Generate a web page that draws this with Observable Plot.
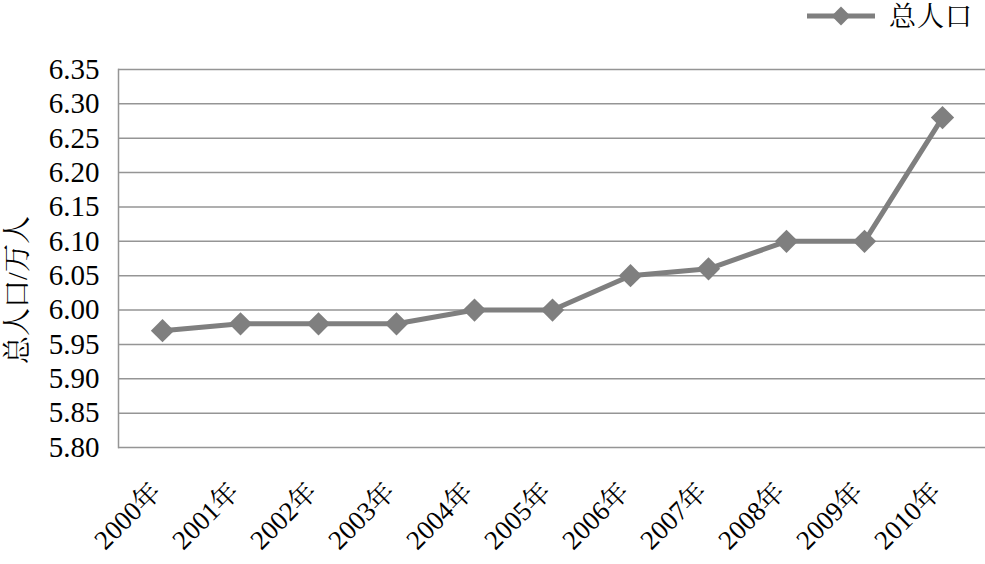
<!DOCTYPE html>
<html>
<head>
<meta charset="utf-8">
<script src="https://cdn.jsdelivr.net/npm/d3@7"></script>
<script src="https://cdn.jsdelivr.net/npm/@observablehq/plot@0.6"></script>
<style>
  html, body { margin: 0; padding: 0; background: #fff; }
  #wrap { width: 985px; height: 564px; position: relative; overflow: hidden; background: #fff; }
  #legend { height: 36px; position: relative; font-family: "Noto Serif CJK SC", serif; }
  #legend svg { position: absolute; left: 800px; top: 0; }
  #legend span { position: absolute; right: 12px; top: 0px; font-size: 27px; letter-spacing: 1px; color: #000; line-height: 30px; white-space: nowrap; }
  #chart svg, #chart svg g, #chart svg text, #chart svg tspan { font-family: "Liberation Serif", "Noto Serif CJK SC", serif !important; font-variant: normal !important; }
</style>
</head>
<body>
<div id="wrap">
  <div id="legend"></div>
  <div id="chart"></div>
</div>
<script>
const years = ["2000年","2001年","2002年","2003年","2004年","2005年","2006年","2007年","2008年","2009年","2010年"];
const population = [5.97, 5.98, 5.98, 5.98, 6.00, 6.00, 6.05, 6.06, 6.10, 6.10, 6.28];
const yTicks = [5.80, 5.85, 5.90, 5.95, 6.00, 6.05, 6.10, 6.15, 6.20, 6.25, 6.30, 6.35];
const seriesName = "总人口";
const yTitle = "总人口/万人";

const data = years.map((year, i) => ({year, value: population[i]}));
const lineColor = "#7f7f7f";
const gridColor = "#959595";
const serifFont = '"Liberation Serif", "Noto Serif CJK SC", serif';

const chart = Plot.plot({
  width: 985,
  height: 528,
  marginLeft: 118,
  marginRight: 0,
  marginTop: 33,
  marginBottom: 117,
  style: {background: "#fff", color: "#000", fontFamily: serifFont},
  x: {type: "point", domain: years, padding: 0.5},
  y: {domain: [5.80, 6.35]},
  marks: [
    Plot.gridY(yTicks, {stroke: gridColor, strokeOpacity: 1, strokeWidth: 1.5}),
    Plot.frame({anchor: "left", stroke: gridColor, strokeWidth: 1.5}),
    Plot.axisY(yTicks, {tickSize: 0, tickPadding: 19, fontSize: 29, fontVariant: "normal", tickFormat: d => d.toFixed(2), label: yTitle, labelAnchor: "center", labelArrow: "none"}),
    Plot.axisX(years, {tickSize: 0, tickPadding: 40, fontSize: 27, fontVariant: "normal", tickRotate: -45, dx: -6, label: null}),
    Plot.line(data, {x: "year", y: "value", stroke: lineColor, strokeWidth: 5}),
    Plot.dot(data, {x: "year", y: "value", symbol: "diamond2", r: 10.5, fill: lineColor, stroke: "none"})
  ]
});
document.getElementById("chart").appendChild(chart);

chart.querySelectorAll("text, tspan").forEach(t => {
  t.style.setProperty("font-family", serifFont, "important");
  t.style.setProperty("font-variant", "normal", "important");
});

// position the y-axis title like the reference
const lblG = d3.select(chart).select('[aria-label="y-axis label"]');
lblG.attr("transform", null);
lblG.selectAll("text")
   .attr("x", null).attr("y", null).attr("dy", "0")
   .attr("transform", "translate(27, 254) rotate(-90)")
   .attr("font-size", 28)
   .attr("text-anchor", "middle")
   .attr("fill", "#000");

// legend
const leg = d3.select("#legend");
const ls = leg.append("svg").attr("width", 80).attr("height", 36);
ls.append("line").attr("x1", 7).attr("x2", 75).attr("y1", 16).attr("y2", 16)
  .attr("stroke", lineColor).attr("stroke-width", 5);
ls.append("path").attr("d", d3.symbol(d3.symbolDiamond2, 8.5 * 8.5 * Math.PI)())
  .attr("transform", "translate(41,16)").attr("fill", lineColor);
leg.append("span").text(seriesName);
</script>
</body>
</html>
